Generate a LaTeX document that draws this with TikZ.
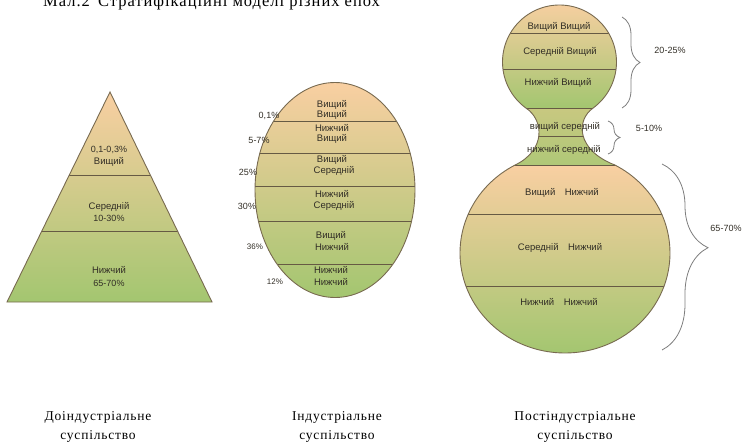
\documentclass[tikz,border=0pt]{standalone}
\usepackage{fontspec}
\setmainfont{Liberation Serif}
\newfontfamily\lsans{Liberation Sans}
\usetikzlibrary{decorations.pathreplacing}
\definecolor{peach}{RGB}{249,207,162}
\definecolor{tanc}{RGB}{224,207,150}
\definecolor{lgreen}{RGB}{163,198,112}
\definecolor{neckc}{RGB}{200,200,128}
\definecolor{edge}{RGB}{120,106,80}
\definecolor{txt}{RGB}{50,46,38}
\definecolor{brc}{RGB}{125,125,125}
\def\pinpath{(525.9,108) -- plot[domain=126.1:413.9, samples=90, variable=\ang] ({559.5+57*cos(\ang)},{62+57*sin(\ang)}) .. controls (576,120) and (576,150) .. (614.9,165) -- plot[domain=-61.6:241.6, samples=140, variable=\ang] ({565+105*cos(\ang)},{253+100*sin(\ang)}) .. controls (546,150) and (544,120) .. cycle}
\begin{document}
\begin{tikzpicture}[x=1pt,y=-1pt,
  lbl/.style={font=\lsans\fontsize{9.5}{10}\selectfont, text=txt, inner sep=0pt},
  pct/.style={font=\lsans\fontsize{9}{10}\selectfont, text=txt, inner sep=0pt},
  spct/.style={font=\lsans\fontsize{8}{9}\selectfont, text=txt, inner sep=0pt},
  capt/.style={font=\fontsize{13.5}{19}\selectfont\addfontfeatures{LetterSpace=6}, align=center, inner sep=0pt, text=black},
  sep/.style={draw=edge!85!black, line width=0.9pt},
  outline/.style={draw=edge, line width=0.9pt},
  bracebox/.style={draw=brc, line width=0.8pt, decorate, decoration={brace, amplitude=#1}}
]
\useasboundingbox (0,0) rectangle (745,447);
% title (mostly cut at top)
\node[anchor=base west, inner sep=0pt, font=\fontsize{16.5}{18}\selectfont\addfontfeatures{LetterSpace=6}] (title) at (43,6) {Мал.2\enspace Стратифікаційні моделі різних епох};

% ---------- pyramid ----------
\coordinate (pa) at (110,92);
\coordinate (pl) at (7,302);
\coordinate (pr) at (212,302);
\begin{scope}
  \clip (pa) -- (pr) -- (pl) -- cycle;
  \shade[top color=peach, middle color=tanc, bottom color=lgreen] (0,92) rectangle (220,302);
  \draw[sep] (0,175) -- (220,175);
  \draw[sep] (0,231) -- (220,231);
\end{scope}
\draw[outline] (pa) -- (pr) -- (pl) -- cycle;
\node[pct] (p1) at (109,150) {0,1-0,3\%};
\node[lbl] (p2) at (109,162) {Вищий};
\node[lbl] (p3) at (109,207) {Середній};
\node[pct] (p4) at (109,218) {10-30\%};
\node[lbl] (p5) at (109,270) {Нижчий};
\node[pct] (p6) at (109,283) {65-70\%};

% ---------- industrial ellipse ----------
\coordinate (ec) at (335,190);
\begin{scope}
  \clip (ec) ellipse [x radius=80, y radius=107.5];
  \shade[top color=peach, middle color=tanc, bottom color=lgreen] (250,82) rectangle (420,298);
  \foreach \yy in {121,153,186,221,264} \draw[sep] (250,\yy) -- (420,\yy);
\end{scope}
\draw[outline] (ec) ellipse [x radius=80, y radius=107.5];
\node[lbl] (e1) at (332,105) {Вищий};
\node[lbl] (e2) at (332,115) {Вищий};
\node[lbl] (e3) at (332,128) {Нижчий};
\node[lbl] (e4) at (332,139) {Вищий};
\node[lbl] (e5) at (332,160) {Вищий};
\node[lbl] (e6) at (334,171) {Середній};
\node[lbl] (e7) at (332,194) {Нижчий};
\node[lbl] (e8) at (334,206) {Середній};
\node[lbl] (e9) at (331,236) {Вищий};
\node[lbl] (e10) at (332,247) {Нижчий};
\node[lbl] (e11) at (331,270) {Нижчий};
\node[lbl] (e12) at (331,282) {Нижчий};
\node[pct] (q1) at (269,116) {0,1\%};
\node[pct] (q2) at (259,140) {5-7\%};
\node[pct] (q3) at (248,172) {25\%};
\node[pct] (q4) at (247,206) {30\%};
\node[spct] (q5) at (255,247) {36\%};
\node[spct] (q6) at (275,282) {12\%};

% ---------- post-industrial ----------
\begin{scope}
  \clip \pinpath;
  \shade[top color=peach, middle color=tanc, bottom color=lgreen] (490,0) rectangle (630,108);
  \shade[top color=neckc, bottom color=lgreen!80!tanc] (490,108) rectangle (640,165);
  \shade[top color=peach, middle color=tanc, bottom color=lgreen] (450,165) rectangle (680,354);
  \foreach \yy in {33,69,108,136,165,214,286} \draw[sep] (450,\yy) -- (680,\yy);
\end{scope}
\draw[outline] \pinpath;
\node[lbl] (s1) at (559,27) {Вищий Вищий};
\node[lbl] (s2) at (560,52) {Середній Вищий};
\node[lbl] (s3) at (558,83) {Нижчий Вищий};
\node[lbl] (s4) at (565,127) {вищий середній};
\node[lbl] (s5) at (564,150) {нижчий середній};
\node[lbl] (s6) at (562,193) {Вищий\quad Нижчий};
\node[lbl] (s7) at (560,248) {Середній\quad Нижчий};
\node[lbl] (s8) at (559,302) {Нижчий\quad Нижчий};

% braces
\coordinate (b1t) at (622,17);  \coordinate (b1b) at (622,108);
\coordinate (b2t) at (608,121); \coordinate (b2b) at (608,154);
\coordinate (b3t) at (662,164); \coordinate (b3b) at (662,350);
\draw[bracebox=18] (b1t) -- (b1b);
\draw[bracebox=12] (b2t) -- (b2b);
\draw[bracebox=46, decoration={aspect=0.45}] (b3t) -- (b3b);
\node[pct] (r1) at (670,50) {20-25\%};
\node[pct] (r2) at (649,128) {5-10\%};
\node[pct] (r3) at (726,228) {65-70\%};

% captions
\node[capt] (c1) at (98,427) {Доіндустріальне\\суспільство};
\node[capt] (c2) at (337,427) {Індустріальне\\суспільство};
\node[capt] (c3) at (575,427) {Постіндустріальне\\суспільство};
\end{tikzpicture}
\end{document}
